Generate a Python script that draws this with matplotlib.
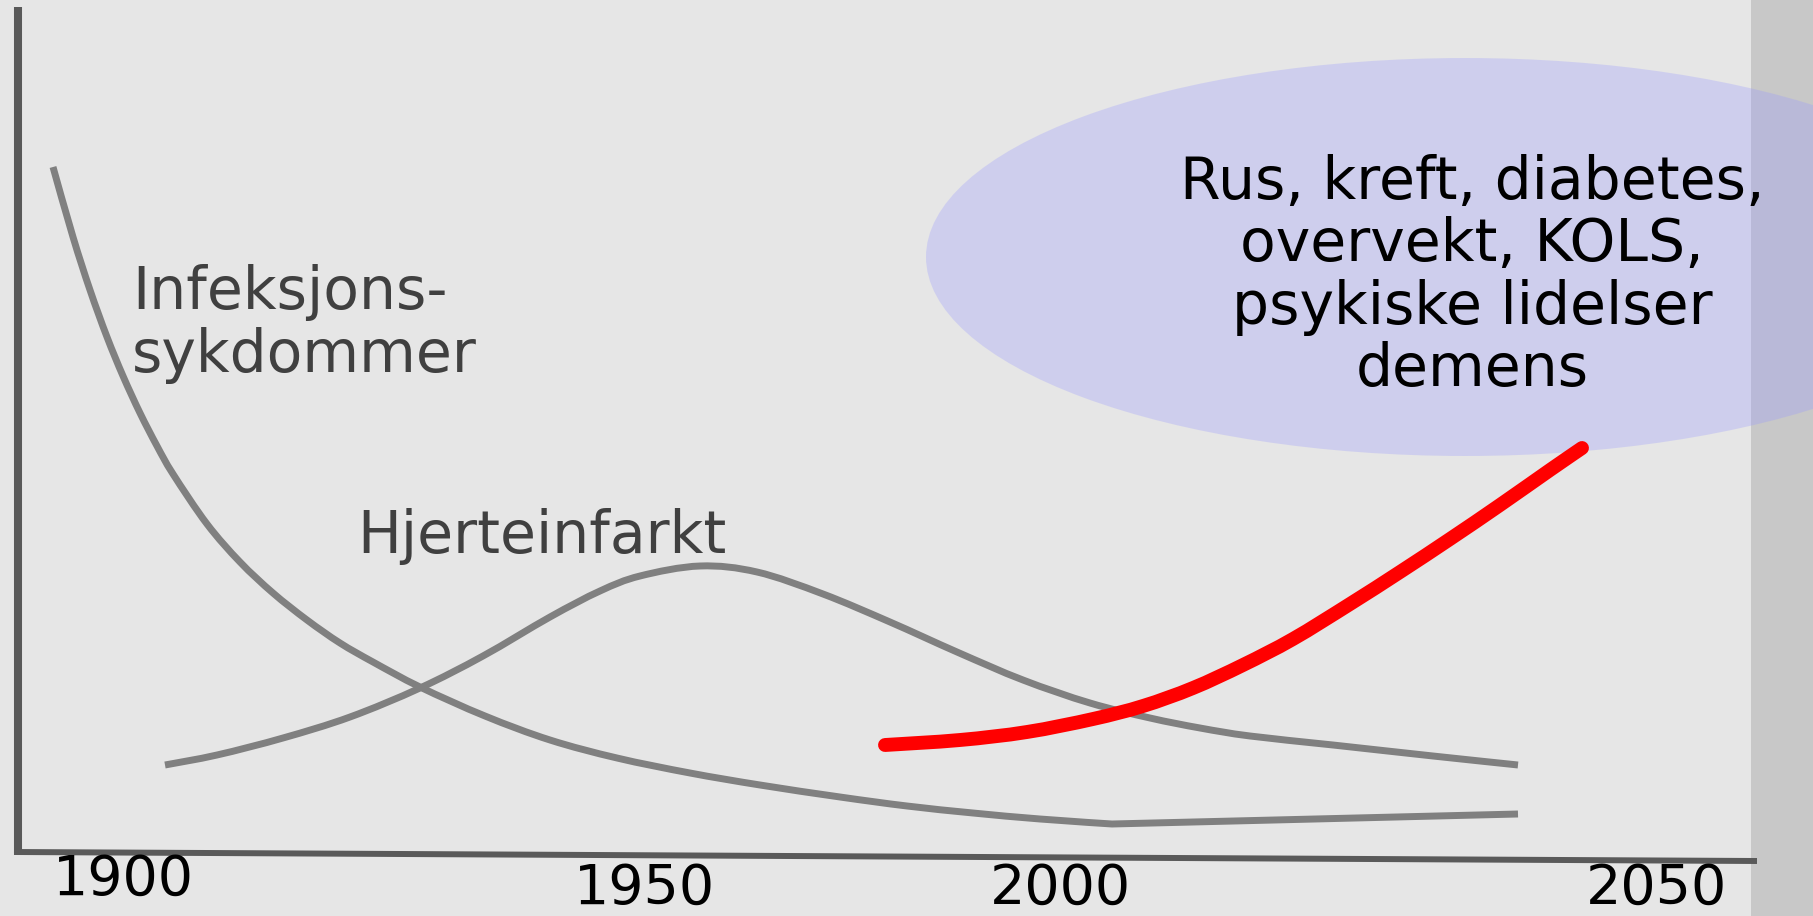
import numpy as np
import matplotlib.pyplot as plt
from matplotlib.patches import Ellipse, PathPatch
from matplotlib.path import Path

# Lysbilde: sykdomsbyrde over tid (skjematisk), koordinater lest av bildet (px)
W, H = 1813, 916

# Infeksjonssykdommer
infeksjon_x = [53, 73, 90, 107, 123, 140, 157, 173, 207, 240, 273, 307, 340, 373,
               420, 485, 550, 617, 690, 760, 840, 907, 973, 1040, 1112, 1518]
infeksjon_y = [167, 237, 290, 337, 376, 413, 446, 474, 524, 562, 593, 620, 643, 662,
               687, 716, 740, 758, 773, 785, 797, 806, 813, 819, 824, 814]

# Hjerteinfarkt
hjerte_x = [165, 217, 283, 350, 420, 483, 550, 600, 640, 700, 757, 823, 890, 957,
            1023, 1090, 1150, 1200, 1250, 1333, 1433, 1518]
hjerte_y = [765, 755, 738, 717, 688, 656, 617, 591, 576, 566, 572, 594, 622, 652,
            680, 703, 718, 728, 736, 745, 756, 765]

# Livsstilssykdommer (rød)
livsstil_x = [885, 960, 1027, 1093, 1143, 1193, 1243, 1293, 1350, 1400, 1450, 1500,
              1550, 1582]
livsstil_y = [745, 740, 732, 719, 706, 688, 665, 639, 604, 572, 539, 505, 470, 448]

# Akser
yakse_x, yakse_y = [18, 18], [7, 853]
xakse_x, xakse_y = [14, 1757], [852, 861]

# Årstall
aar_labels = ['1900', '1950', '2000', '2050']
aar_x = [123, 645, 1060, 1657]
aar_y = [907, 916, 916, 916]

boble_tekst = 'Rus, kreft, diabetes,\novervekt, KOLS,\npsykiske lidelser\ndemens'


def glatt_kurve(xs, ys, hjorner=()):
    """Bezier-kurve gjennom punktene (Catmull-Rom), knekk ved hjorner."""
    p = np.column_stack([xs, ys]).astype(float)
    n = len(p)
    tang = np.zeros_like(p)
    for i in range(n):
        if i in hjorner:
            continue
        a = p[max(i - 1, 0)]
        b = p[min(i + 1, n - 1)]
        tang[i] = (b - a) / 6.0
    verts = [p[0]]
    codes = [Path.MOVETO]
    for i in range(n - 1):
        verts += [p[i] + tang[i], p[i + 1] - tang[i + 1], p[i + 1]]
        codes += [Path.CURVE4] * 3
    return Path(verts, codes)


plt.rcParams['font.family'] = ['DejaVu Sans']

fig = plt.figure(figsize=(W / 100, H / 100), dpi=100)
fig.patch.set_facecolor('#e6e6e6')
ax = fig.add_axes([0, 0, 1, 1])
ax.set_xlim(0, W)
ax.set_ylim(H, 0)
ax.axis('off')

# grå stripe til høyre
ax.axvspan(1751, W, color='#c8c8c8', lw=0, zorder=0)

# boble
ax.add_patch(Ellipse((1465, 257), 1078, 398, facecolor='#9999ff', alpha=0.3,
                     edgecolor='none', zorder=1))

ax.plot(yakse_x, yakse_y, color='#595959', lw=5.8, solid_capstyle='butt', zorder=2)
ax.plot(xakse_x, xakse_y, color='#5a5a5a', lw=4.3, solid_capstyle='butt', zorder=2)

n_inf = len(infeksjon_x)
ax.add_patch(PathPatch(glatt_kurve(infeksjon_x, infeksjon_y,
                                   hjorner=(n_inf - 2, n_inf - 1)),
                       fill=False, edgecolor='#808080', lw=5, capstyle='butt',
                       joinstyle='round', zorder=3))
ax.add_patch(PathPatch(glatt_kurve(hjerte_x, hjerte_y), fill=False,
                       edgecolor='#808080', lw=5, capstyle='butt',
                       joinstyle='round', zorder=3))
ax.add_patch(PathPatch(glatt_kurve(livsstil_x, livsstil_y), fill=False,
                       edgecolor='#ff0000', lw=10, capstyle='round',
                       joinstyle='round', zorder=4))

ax.text(132, 264, 'Infeksjons-\nsykdommer', fontsize=42, color='#404040',
        va='top', ha='left', linespacing=1.14, zorder=5)
ax.text(357, 553, 'Hjerteinfarkt', fontsize=42, color='#404040',
        va='baseline', ha='left', zorder=5)
ax.text(1472, 154, boble_tekst, fontsize=42, color='black', va='top', ha='center',
        multialignment='center', linespacing=1.12, zorder=5)

for lab, x, y in zip(aar_labels, aar_x, aar_y):
    ax.text(x, y, lab, fontsize=40, color='black', ha='center', va='bottom', zorder=5)

fig.savefig('out.png', dpi=100, facecolor=fig.get_facecolor())
